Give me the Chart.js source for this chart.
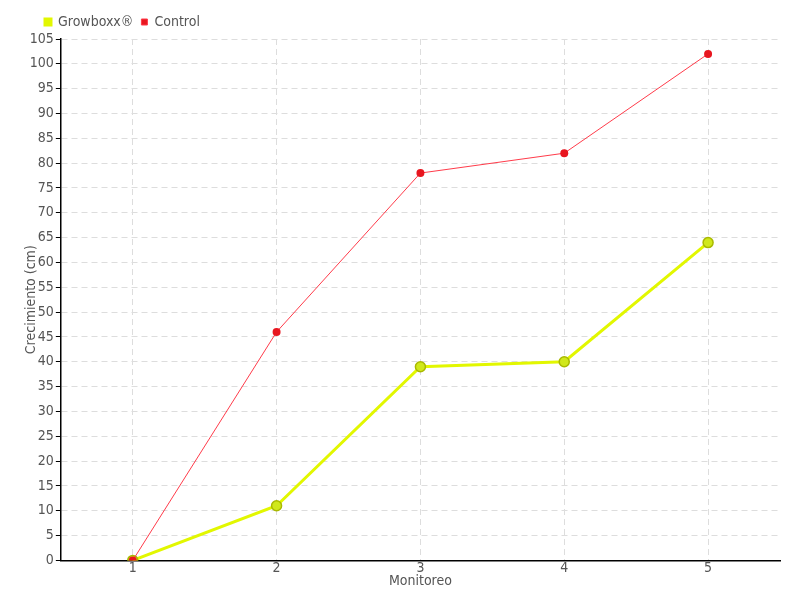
<!DOCTYPE html>
<html><head><meta charset="utf-8">
<script src="https://cdn.jsdelivr.net/npm/chart.js@4/dist/chart.umd.min.js"></script>
<style>html,body{margin:0;padding:0;background:#fff}#w{width:800px;height:600px}</style>
</head><body><div id="w"><canvas id="c"></canvas></div>
<script>
const categories = ['1','2','3','4','5'];
const growboxx = [0, 11, 39, 40, 64];
const control = [0, 46, 78, 82, 102];
const FONT = "'DejaVu Sans Condensed', 'DejaVu Sans', sans-serif";
const legendShift = {
  id: 'legendShift',
  afterLayout(chart) { const l = chart.legend; if (l) { l.left += 26; l.right += 26; } }
};
new Chart(document.getElementById('c'), {
  type: 'line',
  data: {
    labels: categories,
    datasets: [
      { label: 'Growboxx®', data: growboxx, borderColor: '#e2f700', backgroundColor: '#e2f700',
        borderWidth: 3, pointRadius: 5, pointBackgroundColor: '#d0e81a', pointBorderColor: '#a9b900',
        pointBorderWidth: 1.5, tension: 0, order: 1 },
      { label: 'Control', data: control, borderColor: '#ff3b4a', backgroundColor: '#e8161f',
        borderWidth: 1, pointRadius: 4, pointBackgroundColor: '#e8161f', pointBorderColor: '#e8161f',
        pointBorderWidth: 0, tension: 0, order: 0 }
    ]
  },
  options: {
    responsive: true, maintainAspectRatio: false, animation: false,
    layout: { padding: { left: 11, right: 20, top: 7, bottom: 10 } },
    plugins: {
      legend: { position: 'top', align: 'start',
        labels: { boxWidth: 6, boxHeight: 6, color: '#555', padding: 8, font: { family: FONT, size: 14 },
          sort: (a, b) => a.datasetIndex - b.datasetIndex } },
      tooltip: { enabled: false }
    },
    scales: {
      x: { offset: true,
        grid: { offset: false, color: '#ddd', drawTicks: false, tickLength: 0 },
        border: { color: '#000', width: 1.5, dash: [6,4] },
        ticks: { color: '#555', font: { family: FONT, size: 14 }, padding: 0 },
        title: { display: true, text: 'Monitoreo', color: '#555', font: { family: FONT, size: 14 }, padding: { top: -4, bottom: 0 } } },
      y: { min: 0, max: 105,
        grid: { color: '#ddd', tickColor: '#000', tickLength: 5, drawTicks: true },
        border: { color: '#000', width: 1.5, dash: [6,4] },
        ticks: { stepSize: 5, color: '#555', font: { family: FONT, size: 14 }, padding: 2 },
        title: { display: true, text: 'Crecimiento (cm)', color: '#555', font: { family: FONT, size: 14 }, padding: { top: 12, bottom: -12 } } }
    }
  },
  plugins: [legendShift]
});
</script></body></html>
